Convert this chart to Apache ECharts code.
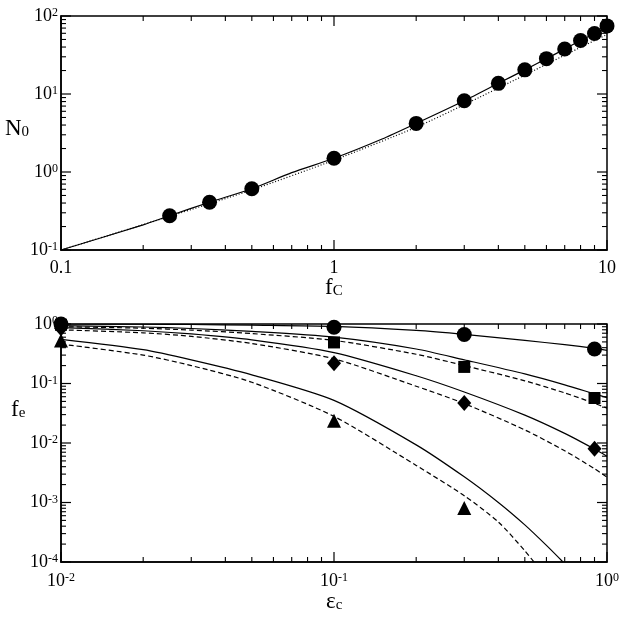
<!DOCTYPE html>
<html><head><meta charset="utf-8">
<script src="https://cdn.jsdelivr.net/npm/echarts@6/dist/echarts.min.js"></script>
<style>html,body{margin:0;padding:0;background:#fff}#c{width:625px;height:621px}</style>
</head><body><div id="c"></div><script>
// ---------- top panel data ----------
const fcPoints = [0.25, 0.35, 0.5, 1, 2, 3, 4, 5, 6, 7, 8, 9, 10];
const n0Points = [0.275, 0.41, 0.61, 1.5, 4.2, 8.2, 13.7, 20.4, 28.4, 37.7, 48.5, 59.6, 74.6];
const fcSolid = [0.1, 0.2, 0.25, 0.35, 0.5, 0.7, 1, 1.5, 2, 3, 4, 5, 6, 7, 8, 9, 10];
const n0Solid = [0.1, 0.21, 0.275, 0.41, 0.61, 0.98, 1.5, 2.65, 4.2, 8.2, 13.7, 20.4, 28.4, 37.7, 48.5, 59.6, 71];
const fcDotted = [0.1, 0.25, 0.5, 1, 2, 3, 5, 7, 10];
const n0Dotted = [0.1, 0.27, 0.59, 1.42, 3.75, 7.3, 17.5, 31.5, 58];

// ---------- bottom panel data ----------
const epsPoints = [0.01, 0.1, 0.3, 0.9];
const circlePts = [1.0, 0.88, 0.665, 0.38];
const squarePts = [0.97, 0.49, 0.19, 0.057];
const diamondPts = [0.85, 0.22, 0.047, 0.008];
const epsTriPts = [0.01, 0.1, 0.3];
const trianglePts = [0.53, 0.0236, 0.00081];

const epsCurve = [0.01, 0.02, 0.03, 0.05, 0.1, 0.2, 0.3, 0.5, 0.7, 0.9, 1.0];
const circleSolid = [1.0, 0.99, 0.98, 0.955, 0.91, 0.78, 0.67, 0.53, 0.45, 0.39, 0.36];
const squareSolid = [0.94, 0.89, 0.84, 0.75, 0.60, 0.38, 0.25, 0.145, 0.095, 0.067, 0.058];
const squareDashed = [0.9, 0.85, 0.79, 0.69, 0.53, 0.31, 0.2, 0.111, 0.0695, 0.0465, 0.0386];
const diamondSolid = [0.87, 0.77, 0.68, 0.54, 0.33, 0.135, 0.072, 0.0294, 0.0145, 0.0079, 0.006];
const diamondDashed = [0.8, 0.71, 0.62, 0.47, 0.26, 0.09, 0.046, 0.0166, 0.0074, 0.0037, 0.00267];
const epsTriSolid = [0.01, 0.02, 0.03, 0.05, 0.1, 0.2, 0.3, 0.4, 0.5, 0.6, 0.69];
const triSolid = [0.55, 0.37, 0.25, 0.14, 0.052, 0.0093, 0.0027, 0.001, 0.00042, 0.00019, 0.0001];
const epsTriDashed = [0.01, 0.02, 0.03, 0.05, 0.1, 0.2, 0.3, 0.4, 0.5, 0.54];
const triDashed = [0.46, 0.3, 0.2, 0.105, 0.028, 0.0042, 0.0013, 0.00047, 0.000155, 0.0001];

// ---------- tick labels ----------
const topXTicks = [0.1, 1, 10];
const topXLabels = ['0.1', '1', '10'];
const topYTicks = [0.1, 1, 10, 100];
const topYExp = ['-1', '0', '1', '2'];
const botXTicks = [0.01, 0.1, 1];
const botXExp = ['-2', '-1', '0'];
const botYTicks = [0.0001, 0.001, 0.01, 0.1, 1];
const botYExp = ['-4', '-3', '-2', '-1', '0'];

const FONT = "'Liberation Serif','DejaVu Serif',serif";
const L10 = Math.log10;

// minor tick values (2..9 times every decade)
function minorsOf(majors) {
  const out = [];
  for (let i = 0; i < majors.length - 1; i++) {
    for (let k = 2; k <= 9; k++) out.push(+(majors[i] * k).toPrecision(6));
  }
  return out;
}

const richPow = () => ({
  b: { fontFamily: FONT, fontSize: 18, lineHeight: 18, color: '#000', verticalAlign: 'bottom', padding: [7, 0, 0, 0] },
  s: { fontFamily: FONT, fontSize: 12, lineHeight: 12, color: '#000', verticalAlign: 'top' }
});
const richSub = () => ({
  b: { fontFamily: FONT, fontSize: 23, lineHeight: 23, color: '#000', verticalAlign: 'top', padding: [0, 0, 7, 0] },
  s: { fontFamily: FONT, fontSize: 15, lineHeight: 15, color: '#000', verticalAlign: 'bottom' }
});

function findIdx(arr, v) {
  let best = 0, bd = Infinity;
  arr.forEach((t, i) => { const d = Math.abs(L10(t) - L10(v)); if (d < bd) { bd = d; best = i; } });
  return best;
}

function mainAxis(dim, gridIndex, majors, labelFmt, usePow, margin) {
  const label = { show: true, margin: margin, formatter: (v) => labelFmt(v), fontFamily: FONT, fontSize: 18, color: '#000' };
  if (usePow) label.rich = richPow();
  return {
    type: 'log', logBase: 10, gridIndex, min: majors[0], max: majors[majors.length - 1],
    position: dim === 'x' ? 'bottom' : 'left',
    axisLine: { show: true, onZero: false, lineStyle: { color: '#000', width: 1.5 } },
    axisTick: { show: false },
    axisLabel: label,
    splitLine: { show: false }
  };
}

const xAxes = [
  mainAxis('x', 0, topXTicks, v => topXLabels[findIdx(topXTicks, v)], false, 9),
  mainAxis('x', 1, botXTicks, v => '{b|10}{s|' + botXExp[findIdx(botXTicks, v)] + '}', true, 10)
];
const yAxes = [
  mainAxis('y', 0, topYTicks, v => '{b|10}{s|' + topYExp[findIdx(topYTicks, v)] + '}', true, 3),
  mainAxis('y', 1, botYTicks, v => '{b|10}{s|' + botYExp[findIdx(botYTicks, v)] + '}', true, 3)
];

// ---------- tick marks, placed at the tick values through the panel's own log axes ----------
function tickSeries(ai, xMaj, yMaj) {
  const xMin = xMaj[0], xMax = xMaj[xMaj.length - 1];
  const yMin = yMaj[0], yMax = yMaj[yMaj.length - 1];
  const mk = (data, size, offset) => ({
    type: 'scatter', xAxisIndex: ai, yAxisIndex: ai, data: data,
    symbol: 'rect', symbolSize: size, symbolOffset: offset, clip: false, silent: true, z: 3,
    itemStyle: { color: '#000', opacity: 1 }, emphasis: { disabled: true }, animation: false
  });
  const xMinor = minorsOf(xMaj), yMinor = minorsOf(yMaj);
  return [
    // bottom edge
    mk(xMaj.map(v => [v, yMin]), [1.2, 10], [0, -5]),
    mk(xMinor.map(v => [v, yMin]), [1.1, 5], [0, -2.5]),
    // top edge
    mk(xMaj.map(v => [v, yMax]), [1.2, 10], [0, 5]),
    mk(xMinor.map(v => [v, yMax]), [1.1, 5], [0, 2.5]),
    // left edge
    mk(yMaj.map(v => [xMin, v]), [10, 1.2], [5, 0]),
    mk(yMinor.map(v => [xMin, v]), [5, 1.1], [2.5, 0]),
    // right edge
    mk(yMaj.map(v => [xMax, v]), [10, 1.2], [-5, 0]),
    mk(yMinor.map(v => [xMax, v]), [5, 1.1], [-2.5, 0])
  ];
}

// axis titles
const axisTitle = (text, left, top) => ({
  text: text, left: left, top: top, padding: 0, itemGap: 0,
  textStyle: { rich: richSub(), fontFamily: FONT, fontWeight: 'normal', color: '#000' }
});
const titles = [
  axisTitle('{b|N}{s|0}', 5, 117),
  axisTitle('{b|f}{s|C}', 325, 276),
  axisTitle('{b|f}{s|e}', 11, 398),
  axisTitle('{b|ε}{s|c}', 326, 590)
];

const zip = (xs, ys) => xs.map((x, i) => [x, ys[i]]);
const lineS = (ai, xs, ys, type) => ({
  type: 'line', xAxisIndex: ai, yAxisIndex: ai, data: zip(xs, ys),
  showSymbol: false, symbol: 'none', smooth: 0.25, clip: true, z: 2,
  lineStyle: { color: '#000', width: 1.2, type: type }, animation: false
});
const scat = (ai, xs, ys, symbol, size, z) => ({
  type: 'scatter', xAxisIndex: ai, yAxisIndex: ai, data: zip(xs, ys),
  symbol: symbol, symbolSize: size, itemStyle: { color: '#000', opacity: 1 }, z: z, animation: false
});

const series = [].concat(
  tickSeries(0, topXTicks, topYTicks),
  tickSeries(1, botXTicks, botYTicks),
  [
    lineS(0, fcSolid, n0Solid, 'solid'),
    lineS(0, fcDotted, n0Dotted, [1, 2]),
    scat(0, fcPoints, n0Points, 'circle', 15, 5),

    lineS(1, epsCurve, circleSolid, 'solid'),
    lineS(1, epsCurve, squareSolid, 'solid'),
    lineS(1, epsCurve, squareDashed, [5, 3]),
    lineS(1, epsCurve, diamondSolid, 'solid'),
    lineS(1, epsCurve, diamondDashed, [5, 3]),
    lineS(1, epsTriSolid, triSolid, 'solid'),
    lineS(1, epsTriDashed, triDashed, [5, 3]),
    scat(1, epsPoints, squarePts, 'rect', 12, 5),
    scat(1, epsPoints, diamondPts, 'diamond', [14, 16], 5),
    scat(1, epsTriPts, trianglePts, 'triangle', 14, 5),
    scat(1, epsPoints, circlePts, 'circle', 15, 6)
  ]
);

const chart = echarts.init(document.getElementById('c'), null, { renderer: 'canvas' });
chart.setOption({
  backgroundColor: '#fff',
  animation: false,
  title: titles,
  grid: [
    { left: 61, top: 14, width: 546, height: 236, show: true, borderColor: '#000', borderWidth: 1.5, backgroundColor: 'transparent' },
    { left: 61, top: 324, width: 546, height: 238, show: true, borderColor: '#000', borderWidth: 1.5, backgroundColor: 'transparent' }
  ],
  xAxis: xAxes,
  yAxis: yAxes,
  series: series
});
</script></body></html>
